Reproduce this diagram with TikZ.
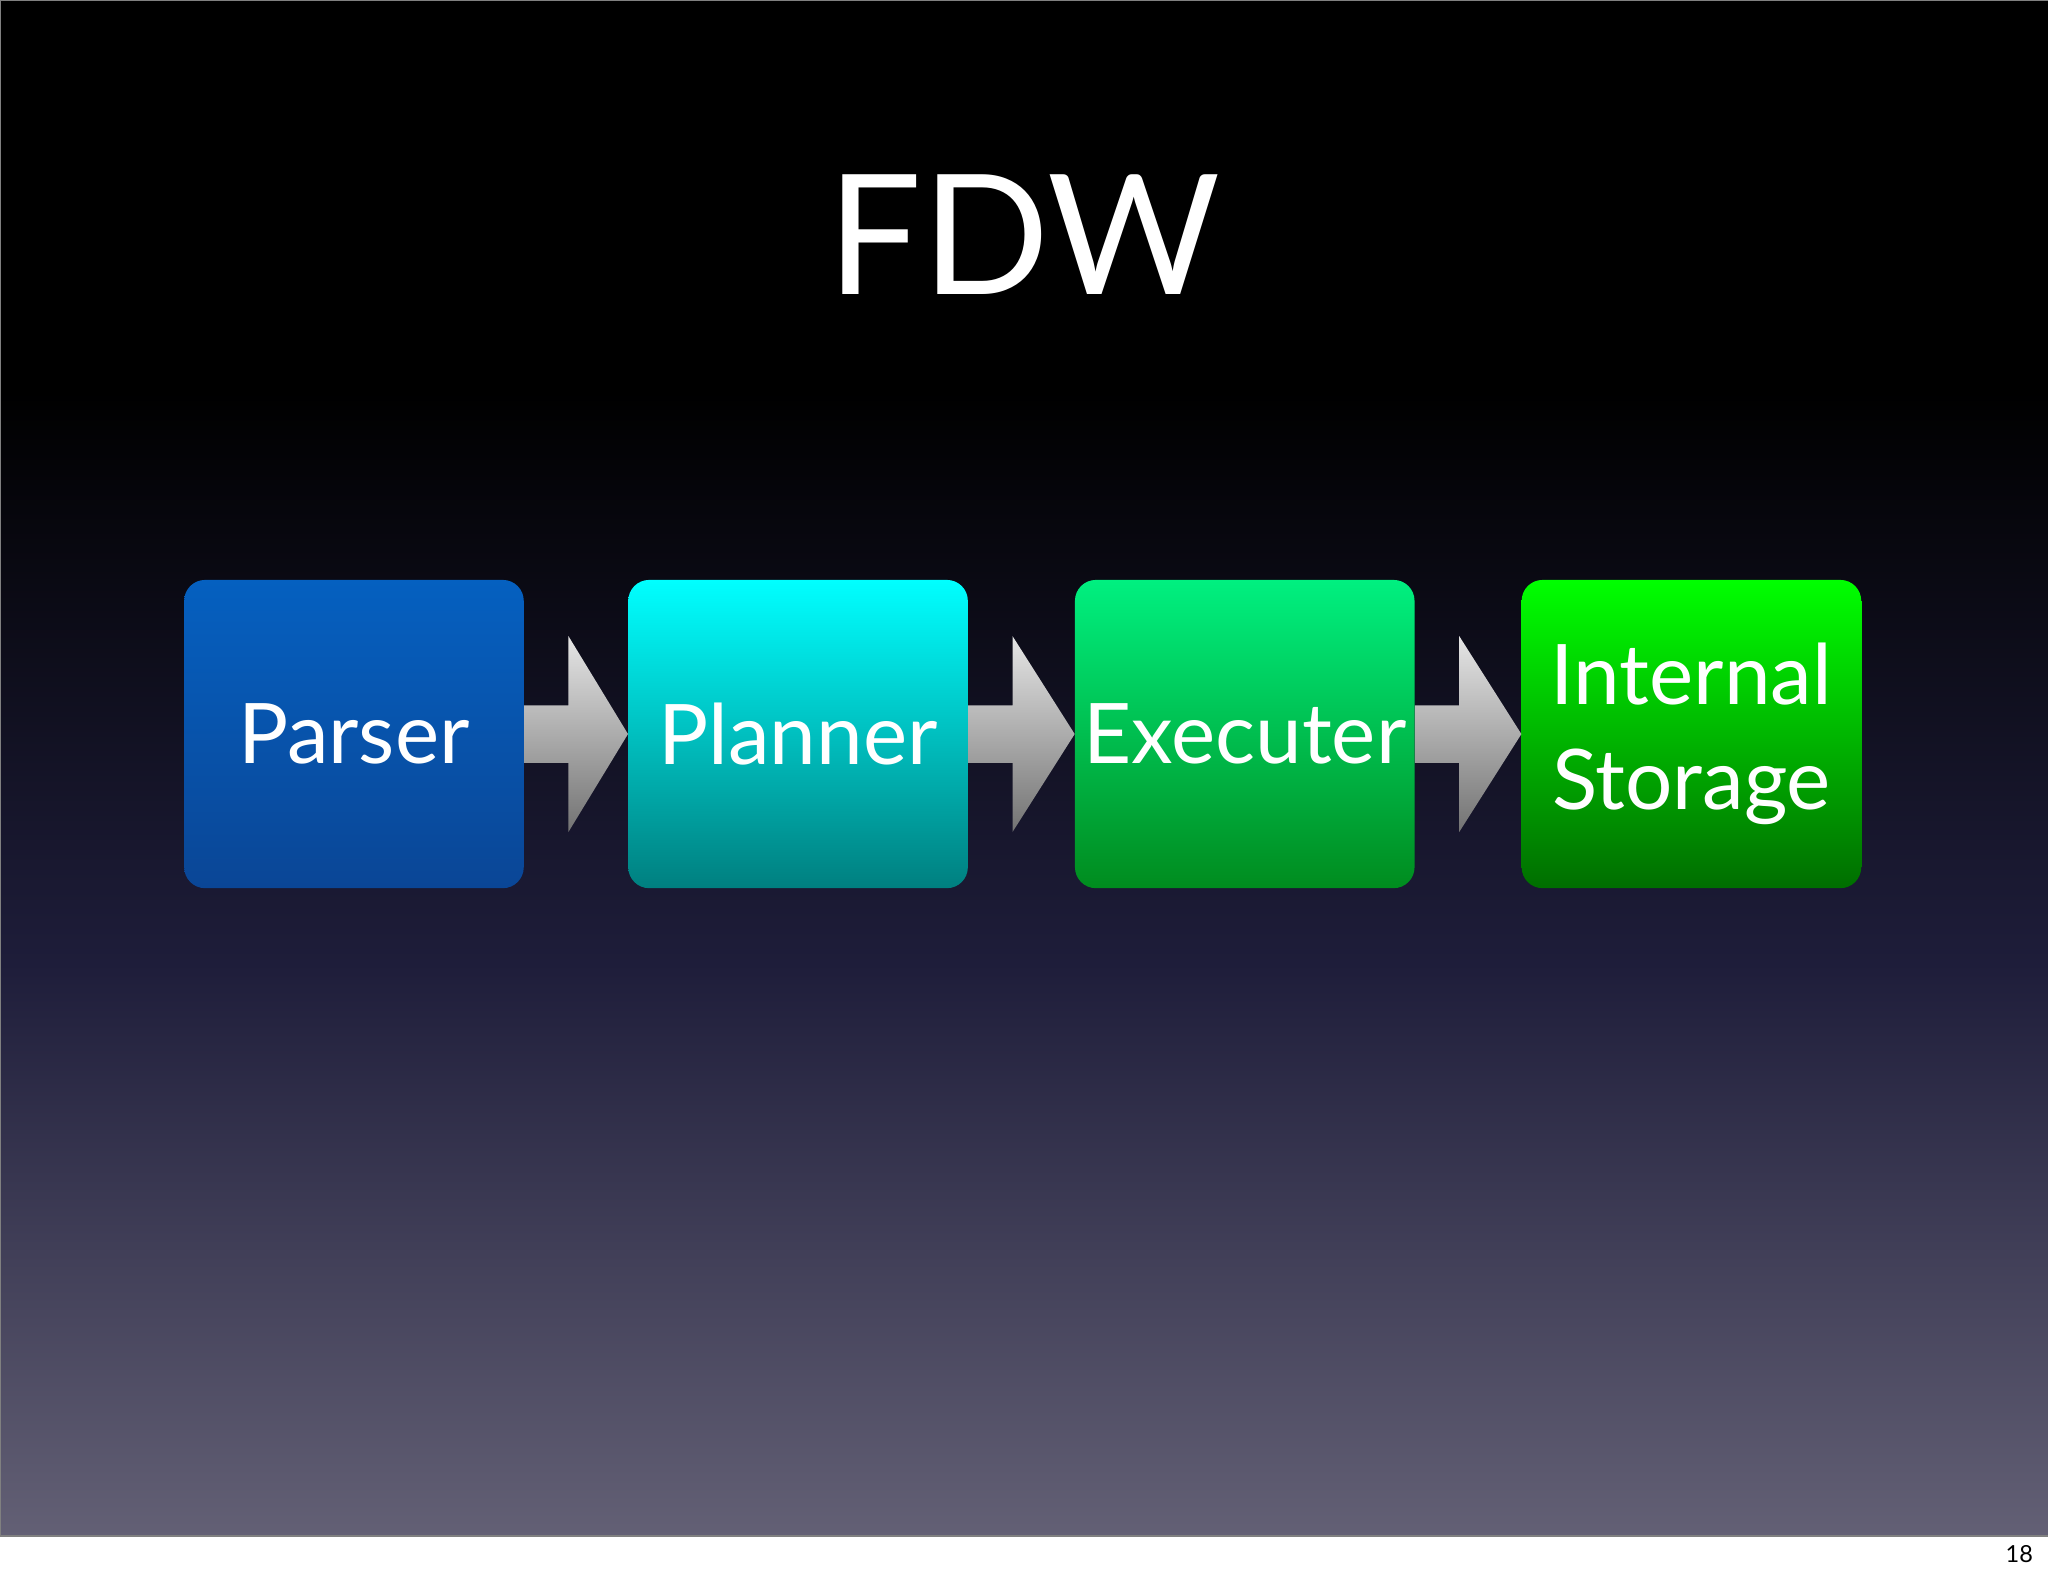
\documentclass[tikz,border=0pt]{standalone}
\usepackage{fontspec}
\setmainfont{Lato}
\usetikzlibrary{calc}
\definecolor{bgbot}{HTML}{636075}
\definecolor{bgmid}{HTML}{1E1D3A}
\tikzset{
 stage/.style={rounded corners=16pt, minimum width=260pt, minimum height=236pt, inner sep=0pt, text=white, font=\fontsize{64}{76}\selectfont, align=center},
 flow/.style={top color=white!80!gray, bottom color=gray!90!black, draw=none}
}
\begin{document}
\begin{tikzpicture}[x=1pt,y=-1pt]
\useasboundingbox (0,0) rectangle (1568,1206);
\fill[white] (0,0) rectangle (1568,1206);
\fill[black] (0,0) rectangle (1568,300);
\shade[top color=black, bottom color=bgbot, middle color=bgmid] (0,299) rectangle (1568,1176);
\draw[gray, line width=0.8pt] (0,0) rectangle (1568,1176);
\node[text=white, font=\fontsize{128}{140}\selectfont] (title) at (784,180) {FDW};
\node[font=\fontsize{18}{20}\selectfont] (pg) at (1546,1190) {18};
\node[stage, top color={rgb,255:red,5;green,96;blue,192}, bottom color={rgb,255:red,10;green,70;blue,150}] (p) at (271,562) {Parser};
\node[stage, top color=cyan, bottom color=cyan!50!black] (pl) at (611,562) {Planner};
\node[stage, top color={rgb,255:red,0;green,240;blue,128}, bottom color={rgb,255:red,0;green,140;blue,30}] (e) at (953,562) {Executer};
\node[stage, top color={rgb,255:red,0;green,255;blue,0}, bottom color={rgb,255:red,0;green,110;blue,0}] (s) at (1295,562) {Internal\\[4pt]Storage};
\foreach \a/\b in {p/pl,pl/e,e/s}{
 \path[flow] ($(\a.east)+(0,-22)$) -- ($(\a.east)+(34,-22)$) -- ($(\a.east)+(34,-75)$) -- (\b.west)
   -- ($(\a.east)+(34,75)$) -- ($(\a.east)+(34,22)$) -- ($(\a.east)+(0,22)$) -- cycle;
}
\end{tikzpicture}
\end{document}
